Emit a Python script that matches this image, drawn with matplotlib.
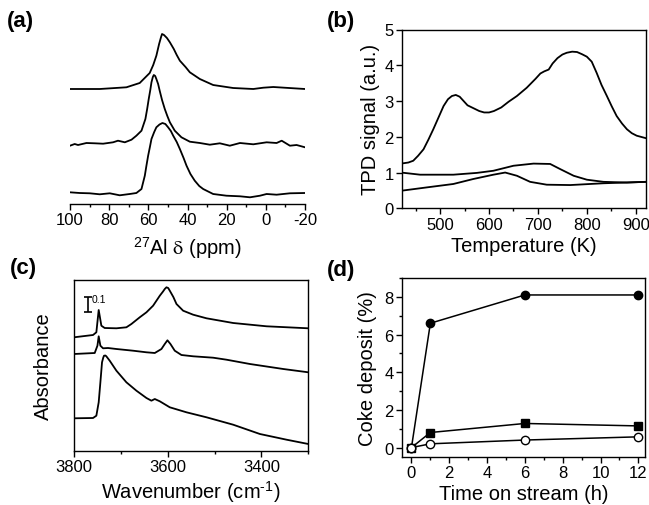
import matplotlib
matplotlib.use("Agg")
import matplotlib.pyplot as plt
from matplotlib.ticker import MultipleLocator

plt.rcParams["font.family"] = ["Liberation Sans", "DejaVu Sans"]
plt.rcParams["mathtext.fontset"] = "stix"
plt.rcParams["mathtext.default"] = "regular"
plt.rcParams["axes.unicode_minus"] = False

# (a) 27Al NMR spectra, stacked (arbitrary offset units)
nmr_top_ppm = [100, 84.8, 71.2, 64.4, 59.3, 57.5, 55.9, 54.5, 53.5, 53.0, 52.0,
               50.5, 49.0, 47.0, 45.5, 43.9, 41.0, 38.8, 33.7, 26.9, 16.7, 6.4,
               1.3, -3.8, -20]
nmr_top_int = [115, 115, 116.7, 121, 131, 139, 148.3, 160, 167, 170, 169,
               166, 161.7, 155, 149, 143.3, 137, 131.7, 125, 119, 116, 115,
               116.3, 117, 115]

nmr_mid_ppm = [100, 97.6, 95.9, 91.6, 87.4, 83.1, 78, 75.5, 72, 68.6, 66.1, 63.5,
               61.5, 60.6, 59.8, 59.0, 58.4, 57.7, 57.2, 56.5, 55.9, 55.0, 54.2,
               53.0, 51.6, 50.3, 49, 46.5, 43.1, 38.8, 33.7, 28.6, 23.5, 18.4,
               13.2, 6.4, -0.4, -5.5, -8.1, -12.3, -15.7, -20]
nmr_mid_int = [58.3, 60, 59, 61, 60.7, 60.3, 61.7, 63.3, 61.7, 64.3, 68.3, 73.3,
               85, 95, 105, 114, 121.7, 127, 129, 128, 125, 120, 113.3,
               104, 95, 88, 81.7, 73.3, 66.7, 62.3, 61, 59.3, 60.7, 58.3,
               61, 59.7, 61.7, 61, 63.3, 58.3, 59, 56.7]

nmr_bot_ppm = [100, 95.1, 89.9, 84.8, 79.7, 74.6, 69.5, 66.1, 63.5, 61.8, 61.0,
               60.1, 59.2, 58.4, 57.0, 55.9, 54.3, 52.8, 51.3, 49.9, 48.5, 47.3,
               45.5, 43.9, 42.0, 40.5, 38.5, 36.3, 34.0, 32, 26.9, 20.1, 13.2,
               8.1, 3, -0.4, -5.5, -12.3, -20]
nmr_bot_int = [11.7, 11, 10.7, 9.7, 10.7, 8.7, 10, 11, 15, 28.3, 38, 48.3, 57,
               65, 72, 76.7, 79.5, 81, 80, 76.7, 73, 68.3, 62, 55, 46, 38.3, 30,
               23.3, 18, 15, 10, 8.3, 7.7, 6.7, 8.3, 10, 9.3, 10.7, 11]

# (b) TPD profiles
tpd_top_T = [420, 435, 445, 455, 466, 476, 486, 497, 507, 516, 524, 532, 540,
             548, 556, 568, 580, 590, 600, 610, 625, 640, 657, 677, 695, 705,
             713, 722, 730, 740, 750, 759, 770, 780, 790, 800, 810, 820, 830,
             841, 851, 861, 872, 882, 892, 902, 921]
tpd_top_s = [1.25, 1.28, 1.33, 1.47, 1.65, 1.92, 2.21, 2.55, 2.86, 3.05, 3.14,
             3.17, 3.12, 3.0, 2.88, 2.8, 2.72, 2.68, 2.68, 2.72, 2.82, 2.98,
             3.14, 3.37, 3.62, 3.77, 3.83, 3.88, 4.05, 4.2, 4.3, 4.35, 4.38,
             4.37, 4.31, 4.24, 4.1, 3.79, 3.45, 3.14, 2.85, 2.58, 2.37, 2.21,
             2.1, 2.03, 1.96]
tpd_mid_T = [420.2, 459, 527, 575, 609, 650, 691, 725, 745, 773, 800, 834, 882, 921]
tpd_mid_s = [1.0, 0.94, 0.94, 0.99, 1.05, 1.19, 1.25, 1.24, 1.10, 0.91, 0.80,
             0.74, 0.72, 0.74]
tpd_bot_T = [420, 473, 527, 568, 609, 633, 657, 684, 718, 766, 834, 921]
tpd_bot_s = [0.49, 0.585, 0.68, 0.82, 0.94, 1.0, 0.91, 0.74, 0.66, 0.65, 0.70, 0.74]

# (c) IR spectra in the OH region (arbitrary offset units)
ir_top_wn = [3800, 3759.4, 3752.3, 3747.3, 3741.6, 3734.5, 3709.5, 3688.2,
             3677.5, 3659.7, 3645.4, 3631.2, 3616.9, 3610, 3606.3, 3602.7, 3599,
             3595.6, 3588, 3581.3, 3567.1, 3545.7, 3517.2, 3460.3, 3389, 3300]
ir_top_abs = [113.7, 116, 118.7, 141, 125.3, 123, 122.7, 123.7, 127, 133.7,
              138.7, 145.3, 155.3, 159.5, 162, 163.7, 163, 160.3, 154, 147,
              140.3, 136.3, 132.7, 128, 124.7, 122.7]
ir_mid_wn = [3800, 3755.8, 3750, 3747.3, 3743.7, 3738, 3727.4, 3709.5, 3674,
             3645.4, 3627.6, 3613.4, 3606.3, 3600.6, 3594.2, 3585, 3570.7,
             3545.7, 3503, 3474.5, 3424.6, 3353.4, 3300]
ir_mid_abs = [97, 98, 105.3, 114.7, 105.3, 102.7, 103, 102, 100.3, 98.7, 98, 102,
              107, 110.7, 107, 100.3, 96, 94.7, 93.3, 91.3, 87, 82, 78.7]
ir_bot_wn = [3800, 3759.4, 3752.3, 3747.3, 3743.7, 3740.2, 3737.5, 3735.9, 3733,
             3731, 3723.8, 3709.5, 3688.2, 3666.8, 3645.4, 3634.8, 3627.6,
             3616.9, 3595.6, 3560, 3517.2, 3460.3, 3403.3, 3346.3, 3300]
ir_bot_abs = [32.7, 33, 35.3, 48.7, 68.7, 88.7, 93.5, 95.3, 95.5, 94.7, 90.3,
              80.3, 68.7, 60.3, 53, 50.3, 52, 49.7, 43.7, 38.7, 33.7, 26.3, 17,
              11.3, 7]

# (d) coke deposit vs time on stream
tos_h = [0, 1, 6, 12]
coke_filled_circle = [0, 6.6, 8.1, 8.1]
coke_square = [0, 0.8, 1.28, 1.15]
coke_open_circle = [0, 0.2, 0.4, 0.57]

LW = 1.3
TICK_FS = 12
LABEL_FS = 14.5

fig = plt.figure(figsize=(6.49, 5.06), dpi=100)
W, H = 649.0, 506.0


def add_ax(left, top, right, bottom):
    return fig.add_axes([left / W, 1 - bottom / H, (right - left) / W, (bottom - top) / H])


def style(ax):
    ax.tick_params(which="both", direction="out", labelsize=TICK_FS, width=1,
                   top=False, right=False)
    ax.tick_params(which="major", length=4, pad=2)
    ax.tick_params(which="minor", length=2.5)
    for s in ax.spines.values():
        s.set_linewidth(1.0)


# (a)
ax = add_ax(70, 25, 305, 205)
ax.plot(nmr_top_ppm, nmr_top_int, color="black", lw=LW)
ax.plot(nmr_mid_ppm, nmr_mid_int, color="black", lw=LW)
ax.plot(nmr_bot_ppm, nmr_bot_int, color="black", lw=LW)
ax.set_xlim(100, -20)
ax.set_ylim(0, 180)
ax.xaxis.set_major_locator(MultipleLocator(20))
ax.xaxis.set_minor_locator(MultipleLocator(10))
ax.set_yticks([])
for side in ("left", "right", "top"):
    ax.spines[side].set_visible(False)
style(ax)
ax.set_xlabel(r"$^{27}$Al $\mathrm{\delta}$ (ppm)", fontsize=LABEL_FS, labelpad=5)

# (b)
ax = add_ax(402, 30.5, 646, 209.3)
ax.plot(tpd_top_T, tpd_top_s, color="black", lw=LW)
ax.plot(tpd_mid_T, tpd_mid_s, color="black", lw=LW)
ax.plot(tpd_bot_T, tpd_bot_s, color="black", lw=LW)
ax.set_xlim(422, 921)
ax.set_ylim(0, 5)
ax.xaxis.set_major_locator(MultipleLocator(100))
ax.xaxis.set_minor_locator(MultipleLocator(50))
ax.yaxis.set_major_locator(MultipleLocator(1))
style(ax)
ax.set_xlabel("Temperature (K)", fontsize=LABEL_FS, labelpad=3)
ax.set_ylabel("TPD signal (a.u.)", fontsize=LABEL_FS, labelpad=3)

# (c)
ax = add_ax(74, 281, 308.3, 452)
ax.plot(ir_top_wn, ir_top_abs, color="black", lw=LW)
ax.plot(ir_mid_wn, ir_mid_abs, color="black", lw=LW)
ax.plot(ir_bot_wn, ir_bot_abs, color="black", lw=LW)
ax.set_xlim(3800, 3300)
ax.set_ylim(0, 171)
ax.xaxis.set_major_locator(MultipleLocator(200))
ax.xaxis.set_minor_locator(MultipleLocator(100))
ax.set_yticks([])
style(ax)
# scale bar for 0.1 absorbance
ax.errorbar([3771], [146.5], yerr=[7.5], color="black", lw=1.2, capsize=3, capthick=1.2)
ax.text(3762, 152, "0.1", fontsize=7.5, ha="left", va="center")
ax.set_xlabel(r"Wavenumber (cm$^{\text{-}1}$)", fontsize=LABEL_FS, labelpad=3)
ax.set_ylabel("Absorbance", fontsize=LABEL_FS, labelpad=15)

# (d)
ax = add_ax(402, 279, 645, 458)
ax.plot(tos_h, coke_filled_circle, color="black", lw=1.1, marker="o", ms=6,
        mfc="black", mec="black", zorder=3)
ax.plot(tos_h, coke_square, color="black", lw=1.1, marker="s", ms=5.5,
        mfc="black", mec="black", zorder=3)
ax.plot(tos_h, coke_open_circle, color="black", lw=1.1, marker="o", ms=6,
        mfc="white", mec="black", zorder=4)
ax.set_xlim(-0.5, 12.35)
ax.set_ylim(-0.5, 9)
ax.xaxis.set_major_locator(MultipleLocator(2))
ax.xaxis.set_minor_locator(MultipleLocator(1))
ax.yaxis.set_major_locator(MultipleLocator(2))
ax.yaxis.set_minor_locator(MultipleLocator(1))
style(ax)
ax.set_xlabel("Time on stream (h)", fontsize=LABEL_FS, labelpad=3)
ax.set_ylabel("Coke deposit (%)", fontsize=LABEL_FS, labelpad=5)

# panel letters
for x, y, lab in [(7, 11, "(a)"), (327, 11, "(b)"), (10, 258, "(c)"), (327, 260, "(d)")]:
    fig.text(x / W, 1 - y / H, lab, fontsize=16, fontweight="bold", ha="left", va="top")

fig.savefig("out.png", dpi=100)
